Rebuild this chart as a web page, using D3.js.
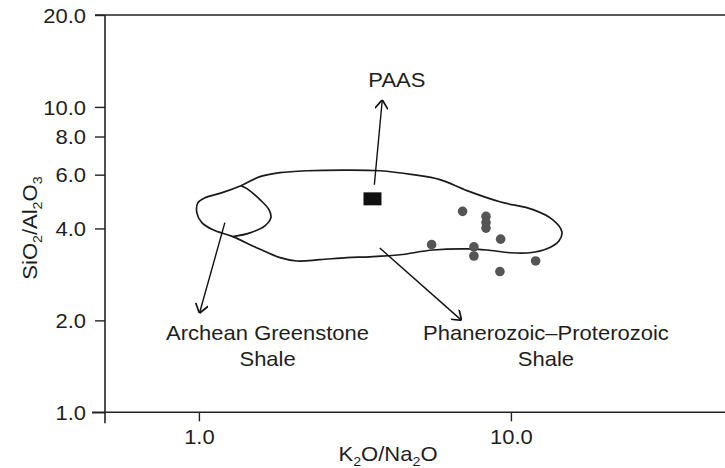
<!DOCTYPE html>
<html>
<head>
<meta charset="utf-8">
<script src="https://cdn.jsdelivr.net/npm/d3@7"></script>
<style>
  html, body { margin: 0; padding: 0; background: #fff; }
  svg { display: block; }
  text { font-family: "Liberation Sans", Arial, Helvetica, sans-serif; fill: #1e1e1e; }
</style>
</head>
<body>
<div id="chart"></div>
<script>
// K2O/Na2O vs SiO2/Al2O3 discrimination plot (log–log)

// tick values
const xTicks = [1, 10];
const yTicks = [1, 2, 4, 6, 8, 10, 20];

// sample points [K2O/Na2O, SiO2/Al2O3]
const samples = [
  [7.00, 4.55], [8.32, 4.38], [8.32, 4.18], [8.32, 4.01], [9.27, 3.69],
  [5.57, 3.54], [7.61, 3.48], [7.61, 3.25], [12.0, 3.13], [9.22, 2.89]
];

// Post-Archean Australian Shale
const paas = [3.6, 5.0];

// Phanerozoic–Proterozoic shale field (closed outline, includes outer Archean arc)
const phanerozoicField = [
  [1.363, 5.52], [1.569, 5.91], [1.818, 6.09], [2.219, 6.18], [2.94, 6.21],
  [3.80, 6.18], [4.85, 6.00], [5.92, 5.78], [7.23, 5.32], [9.22, 4.89],
  [11.77, 4.61], [13.63, 4.27], [14.57, 3.90], [14.25, 3.64], [13.04, 3.43],
  [11.51, 3.33], [9.93, 3.33], [8.38, 3.40], [7.23, 3.43], [5.62, 3.40],
  [4.41, 3.28], [3.53, 3.23], [2.98, 3.21], [2.44, 3.16], [2.06, 3.13],
  [1.82, 3.21], [1.53, 3.46], [1.285, 3.76], [1.109, 3.96], [1.022, 4.18],
  [0.985, 4.50], [0.993, 4.86], [1.045, 5.04], [1.194, 5.25]
];

// inner boundary of the Archean greenstone shale field
const archeanInner = [
  [1.363, 5.52], [1.425, 5.40], [1.569, 4.97], [1.677, 4.61],
  [1.701, 4.34], [1.627, 4.08], [1.457, 3.87], [1.285, 3.76]
];

// annotation arrows [from, to]
const arrows = [
  [[3.65, 5.56], [3.87, 10.56]],   // PAAS
  [[1.211, 4.18], [1.004, 2.11]],  // Archean greenstone shale
  [[3.80, 3.45], [6.95, 2.00]]     // Phanerozoic–Proterozoic shale
];

// field labels: lines of text anchored at [x, y] in data units
const labels = [
  { lines: ["PAAS"], at: [4.31, 11.6] },
  { lines: ["Archean Greenstone", "Shale"], at: [1.66, 1.726] },
  { lines: ["Phanerozoic\u2013Proterozoic", "Shale"], at: [12.95, 1.726] }
];

const W = 725, H = 468;
const SX = 1.1;   // horizontal stretch of the lettering
const FS = 20;

const x = d3.scaleLog().domain([0.5, 50]).range([105, 729]);
const y = d3.scaleLog().domain([1, 20]).range([412.3, 15]);

const svg = d3.select("#chart").append("svg")
  .attr("width", W).attr("height", H);

svg.append("defs").append("marker")
  .attr("id", "arrowhead")
  .attr("viewBox", "0 0 10 10")
  .attr("refX", 10).attr("refY", 5)
  .attr("markerUnits", "userSpaceOnUse")
  .attr("markerWidth", 13).attr("markerHeight", 13)
  .attr("orient", "auto")
  .append("path")
  .attr("d", "M3,0 L10,5 L3,10")
  .attr("fill", "none")
  .attr("stroke", "#111")
  .attr("stroke-width", 1.3);

// top border line
svg.append("line")
  .attr("x1", 95).attr("x2", W)
  .attr("y1", y(20)).attr("y2", y(20))
  .attr("stroke", "#222").attr("stroke-width", 1.6);

// y axis
const yAxis = svg.append("g")
  .attr("transform", `translate(${x(0.5)},0)`)
  .call(d3.axisLeft(y).tickValues(yTicks).tickFormat(d3.format(".1f"))
    .tickSize(10).tickSizeOuter(0));
yAxis.select(".domain").remove();
yAxis.append("line")
  .attr("x1", 0).attr("x2", 0)
  .attr("y1", y(20)).attr("y2", y(1) + 11)
  .attr("stroke", "#222").attr("stroke-width", 1.6);
yAxis.selectAll(".tick line").attr("stroke", "#222").attr("stroke-width", 1.4);
yAxis.selectAll(".tick text")
  .attr("x", -19 / SX)
  .attr("dy", "0.36em")
  .attr("transform", `scale(${SX},1)`)
  .style("font-size", FS + "px")
  .style("font-family", "'Liberation Sans', Arial, sans-serif")
  .attr("fill", "#1e1e1e");
// 1.0 tick reaches a little further left
yAxis.selectAll(".tick").filter(d => d === 1).select("line").attr("x2", -13);

// x axis
const xAxis = svg.append("g")
  .attr("transform", `translate(0,${y(1)})`)
  .call(d3.axisBottom(x).tickValues(xTicks).tickFormat(d3.format(".1f"))
    .tickSize(9).tickSizeOuter(0));
xAxis.select(".domain").remove();
xAxis.append("line")
  .attr("x1", 92).attr("x2", W)
  .attr("stroke", "#222").attr("stroke-width", 1.6);
xAxis.selectAll(".tick line").attr("stroke", "#222").attr("stroke-width", 1.4);
xAxis.selectAll(".tick text")
  .attr("y", 18)
  .attr("dy", "0.71em")
  .attr("transform", `scale(${SX},1)`)
  .style("font-size", FS + "px")
  .style("font-family", "'Liberation Sans', Arial, sans-serif")
  .attr("fill", "#1e1e1e");

// axis titles with subscripts
function chemLabel(g, parts) {
  const t = g.append("text").style("font-size", FS + "px").attr("text-anchor", "middle");
  parts.forEach(p => {
    if (p.sub) {
      t.append("tspan").text(p.s).style("font-size", "13px").attr("dy", 5);
    } else {
      t.append("tspan").text(p.s).attr("dy", p.after ? -5 : 0);
    }
  });
  return t;
}

const xTitle = svg.append("g").attr("transform", `translate(388,461) scale(${SX},1)`);
chemLabel(xTitle, [
  { s: "K" }, { s: "2", sub: true }, { s: "O/Na", after: true },
  { s: "2", sub: true }, { s: "O", after: true }
]);

const yTitle = svg.append("g").attr("transform", `translate(37,228) rotate(-90) scale(${SX},1)`);
chemLabel(yTitle, [
  { s: "SiO" }, { s: "2", sub: true }, { s: "/Al", after: true },
  { s: "2", sub: true }, { s: "O", after: true }, { s: "3", sub: true }
]);

// fields
const line = d3.line().x(d => x(d[0])).y(d => y(d[1]));

svg.append("path")
  .datum(phanerozoicField)
  .attr("d", line.curve(d3.curveCatmullRomClosed.alpha(0.5)))
  .attr("fill", "none").attr("stroke", "#1a1a1a").attr("stroke-width", 1.7);

svg.append("path")
  .datum(archeanInner)
  .attr("d", line.curve(d3.curveCatmullRom.alpha(0.5)))
  .attr("fill", "none").attr("stroke", "#1a1a1a").attr("stroke-width", 1.7);

// arrows
svg.selectAll("line.arrow")
  .data(arrows)
  .join("line")
  .attr("class", "arrow")
  .attr("x1", d => x(d[0][0])).attr("y1", d => y(d[0][1]))
  .attr("x2", d => x(d[1][0])).attr("y2", d => y(d[1][1]))
  .attr("stroke", "#111").attr("stroke-width", 1.4)
  .attr("marker-end", "url(#arrowhead)");

// PAAS marker
svg.append("rect")
  .attr("x", x(paas[0]) - 9).attr("y", y(paas[1]) - 6.5)
  .attr("width", 18).attr("height", 13)
  .attr("fill", "#111");

// samples
svg.selectAll("circle.sample")
  .data(samples)
  .join("circle")
  .attr("class", "sample")
  .attr("cx", d => x(d[0])).attr("cy", d => y(d[1]))
  .attr("r", 4.8)
  .attr("fill", "#555");

// field labels
labels.forEach(l => {
  const g = svg.append("g")
    .attr("transform", `translate(${x(l.at[0])},${y(l.at[1])}) scale(${SX},1)`);
  l.lines.forEach((s, i) => {
    g.append("text")
      .attr("text-anchor", "middle")
      .attr("y", i * 26)
      .style("font-size", FS + "px")
      .text(s);
  });
});
</script>
</body>
</html>
